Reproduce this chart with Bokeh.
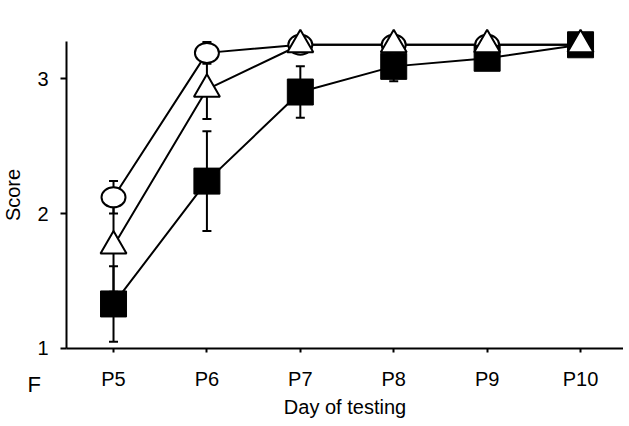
from bokeh.plotting import figure
from bokeh.models import ColumnDataSource, Whisker, TeeHead, Label, FixedTicker, Range1d
from bokeh.embed import file_html
from bokeh.resources import INLINE

days = ["P5", "P6", "P7", "P8", "P9", "P10"]
xpos = [0, 1, 2, 3, 4, 5]

circle_mean = [2.12, 3.19, 3.25, 3.25, 3.25, 3.25]
circle_err = [0.12, 0.08, 0.0, 0.0, 0.0, 0.0]
triangle_mean = [1.76, 2.92, 3.25, 3.25, 3.25, 3.25]
triangle_err = [0.34, 0.22, 0.0, 0.0, 0.0, 0.0]
square_mean = [1.33, 2.24, 2.90, 3.09, 3.15, 3.25]
square_err = [0.28, 0.37, 0.19, 0.11, 0.03, 0.0]

y_ticks = [1, 2, 3]
panel_label = "F"

FONT = "Liberation Sans"

X0, X1 = -0.503, 5.46   # visible axis extent
Y0, Y1 = 1.0, 3.274

p = figure(frame_width=623, frame_height=419, output_backend="svg", toolbar_location=None,
           x_range=Range1d(-1.21, 5.46), y_range=Range1d(0.474, 3.578),
           min_border_left=0, min_border_top=0, min_border_right=0, min_border_bottom=0)
p.outline_line_color = None
p.grid.visible = False
p.background_fill_color = "white"

for ax in (p.xaxis[0], p.yaxis[0]):
    ax.axis_line_width = 2
    ax.axis_line_color = "black"
    ax.major_tick_line_width = 2
    ax.major_tick_in = 0
    ax.minor_tick_line_color = None
    ax.major_label_text_font = FONT
    ax.major_label_text_font_size = "20px"
    ax.major_label_text_color = "black"
    ax.axis_label_text_font = FONT
    ax.axis_label_text_font_size = "20px"
    ax.axis_label_text_font_style = "normal"
    ax.axis_label_text_color = "black"

p.xaxis.fixed_location = Y0
p.xaxis.bounds = (X0, X1)
p.xaxis.ticker = FixedTicker(ticks=xpos)
p.xaxis.major_label_overrides = {x: d for x, d in zip(xpos, days)}
p.xaxis.axis_label = "Day of testing"
p.xaxis.major_tick_out = 4
p.xaxis.major_label_standoff = 16
p.xaxis.axis_label_standoff = 2

p.yaxis.fixed_location = X0
p.yaxis.bounds = (Y0, Y1)
p.yaxis.ticker = FixedTicker(ticks=y_ticks)
p.yaxis.major_tick_out = 6
p.yaxis.axis_label = "Score"
p.yaxis.major_label_standoff = 12
p.yaxis.axis_label_standoff = 10


def add_series(mean, err):
    src = ColumnDataSource(dict(x=xpos, y=mean,
                                lo=[m - e for m, e in zip(mean, err)],
                                hi=[m + e for m, e in zip(mean, err)]))
    w = Whisker(source=src, base="x", lower="lo", upper="hi", line_width=2, line_color="black",
                upper_head=TeeHead(size=9, line_width=2, line_color="black"),
                lower_head=TeeHead(size=9, line_width=2, line_color="black"))
    p.add_layout(w)
    p.line("x", "y", source=src, line_width=2, line_color="black")
    return src

cs = add_series(circle_mean, circle_err)
ss = add_series(square_mean, square_err)
ts = add_series(triangle_mean, triangle_err)

p.ellipse("x", "y", source=cs, width=24, height=20, width_units="screen", height_units="screen",
          fill_color="white", line_color="black", line_width=2)
p.scatter("x", "y", source=ss, marker="square", size=26, fill_color="black", line_color="black", line_width=1)
p.scatter("x", "y", source=ts, marker="triangle", size=26, fill_color="white", line_color="black", line_width=2)

p.add_layout(Label(x=-0.92, y=0.733, text=panel_label, text_baseline="middle", text_align="left",
                   text_font=FONT, text_font_size="22px", text_color="black"))

open("out.html", "w").write(file_html(p, INLINE))
